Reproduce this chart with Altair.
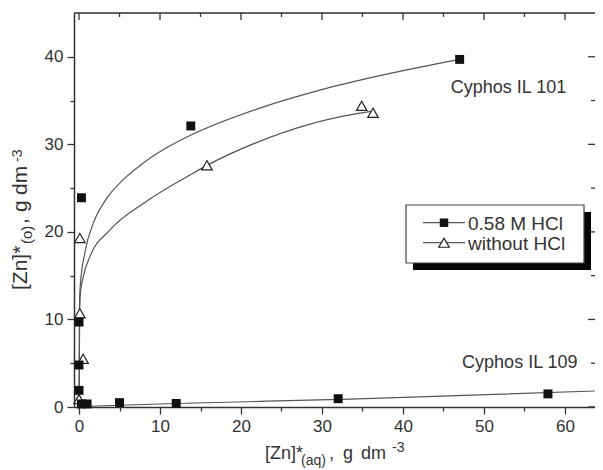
import altair as alt
import pandas as pd

# ---------------- data ----------------
series_names = ["0.58 M HCl", "without HCl"]

# 0.58 M HCl (filled squares) - Cyphos IL 101
hcl101_x = [0.0, 0.0, 0.0, 0.3, 13.8, 47.0]
hcl101_y = [1.9, 4.8, 9.7, 23.9, 32.1, 39.7]
# 0.58 M HCl (filled squares) - Cyphos IL 109
hcl109_x = [0.3, 1.0, 5.0, 12.0, 32.0, 57.9]
hcl109_y = [0.35, 0.35, 0.5, 0.4, 0.95, 1.5]
# without HCl (open triangles)
nohcl_x = [0.0, 0.5, 0.1, 0.1, 15.8, 34.9, 36.3]
nohcl_y = [0.9, 5.5, 10.7, 19.3, 27.6, 34.4, 33.6]

# fitted curves
fit_hcl101_x = [0.0, 0.06, 0.15, 0.74, 1.77, 3.4, 5.5, 7.7, 10.8, 13.7, 21.9, 30.2, 38.4, 47.0]
fit_hcl101_y = [0.0, 11.5, 13.8, 17.7, 21.0, 23.8, 26.0, 27.7, 29.6, 31.0, 34.0, 36.3, 38.1, 39.7]
fit_nohcl_x = [0.0, 0.08, 0.15, 0.53, 1.36, 3.8, 8.35, 13.7, 15.8, 21.9, 28.1, 34.3, 36.3]
fit_nohcl_y = [0.0, 11.0, 12.8, 14.9, 17.2, 20.2, 23.5, 26.5, 27.6, 30.2, 32.2, 33.5, 33.8]
fit_hcl109_x = [0.0, 5.0, 12.0, 33.5, 64.5]
fit_hcl109_y = [0.05, 0.2, 0.4, 0.9, 1.85]

ann_text = ["Cyphos IL 101", "Cyphos IL 109"]
ann_x = [45.9, 47.3]
ann_y = [35.85, 4.45]

x_ticks = list(range(0, 65, 5))
y_ticks = list(range(0, 45, 5))

# ---------------- layout ----------------
W, H = 521, 394
FONT = "Liberation Sans"
TXT = "#333333"
LINE = "#555555"

xscale = alt.Scale(domain=[-0.62, 63.71], nice=False, zero=False)
yscale = alt.Scale(domain=[0, 45], nice=False, zero=False)

tick_len = {"condition": {"test": "datum.value % 10 === 0", "value": 7}, "value": 4}
xax = alt.Axis(values=[v for v in x_ticks if v <= 60],
               labelExpr="datum.value % 10 === 0 ? datum.label : ''",
               tickSize=tick_len, grid=False, title=None, labelFontSize=17, labelColor=TXT,
               labelFont=FONT, domainColor=TXT, domainWidth=1.5, tickColor=TXT, tickWidth=1.3,
               labelPadding=4, labelFlush=False)
yax = alt.Axis(values=y_ticks, labelExpr="datum.value % 10 === 0 ? datum.label : ''",
               tickSize=tick_len, grid=False, title=None, labelFontSize=17, labelColor=TXT,
               labelFont=FONT, domainColor=TXT, domainWidth=1.5, tickColor=TXT, tickWidth=1.3,
               labelPadding=4)

def X(f):
    return alt.X(f, type="quantitative", scale=xscale, axis=xax)

def Y(f):
    return alt.Y(f, type="quantitative", scale=yscale, axis=yax)

def curve(xs, ys):
    df = pd.DataFrame({"x": xs, "y": ys})
    return alt.Chart(df).mark_line(color=LINE, strokeWidth=1.2, interpolate="monotone",
                                   clip=True).encode(x=X("x"), y=Y("y"))

one = pd.DataFrame({"a": [0]})

layers = []
layers.append(curve(fit_hcl101_x, fit_hcl101_y))
layers.append(curve(fit_nohcl_x, fit_nohcl_y))
layers.append(curve(fit_hcl109_x, fit_hcl109_y))

# top frame line and inward ticks on top and right
layers.append(alt.Chart(one).mark_rule(color=TXT, strokeWidth=1.5).encode(
    x=alt.value(0), x2=alt.value(W), y=alt.value(0)))
for vals, ln in [([v for v in x_ticks if v % 10 == 0], 7), ([v for v in x_ticks if v % 10], 4)]:
    layers.append(alt.Chart(pd.DataFrame({"v": vals})).mark_rule(color=TXT, strokeWidth=1.3).encode(
        x=X("v"), y=alt.value(0), y2=alt.value(ln)))
for vals, ln in [([v for v in y_ticks if v % 10 == 0], 7), ([v for v in y_ticks if v % 10], 4)]:
    layers.append(alt.Chart(pd.DataFrame({"v": vals})).mark_rule(color=TXT, strokeWidth=1.3).encode(
        y=Y("v"), x=alt.value(W), x2=alt.value(W - ln)))

sq = pd.DataFrame({"x": hcl101_x + hcl109_x, "y": hcl101_y + hcl109_y})
tri = pd.DataFrame({"x": nohcl_x, "y": nohcl_y})
layers.append(alt.Chart(tri).mark_point(shape="triangle-up", filled=True, fill="white",
                                        stroke="#222222", strokeWidth=1.2, size=110, opacity=1).encode(
    x=X("x"), y=Y("y")))
layers.append(alt.Chart(sq).mark_point(shape="square", filled=True, color="#111111",
                                       size=80, opacity=1).encode(x=X("x"), y=Y("y")))

ann = pd.DataFrame({"t": ann_text, "x": ann_x, "y": ann_y})
layers.append(alt.Chart(ann).mark_text(align="left", baseline="alphabetic", fontSize=18,
                                       font=FONT, color=TXT).encode(x=X("x"), y=Y("y"), text="t:N"))

# legend (box with drop shadow)
LX0, LX1, LY0, LY1, SH = 332, 510, 192, 250, 7
layers.append(alt.Chart(one).mark_rect(color="black").encode(
    x=alt.value(LX0 + SH), x2=alt.value(LX1 + SH), y=alt.value(LY0 + SH), y2=alt.value(LY1 + SH)))
layers.append(alt.Chart(one).mark_rect(fill="white", stroke="#444444", strokeWidth=1.2).encode(
    x=alt.value(LX0), x2=alt.value(LX1), y=alt.value(LY0), y2=alt.value(LY1)))
row_y = [209.7, 229.7]
for i, name in enumerate(series_names):
    ry = row_y[i]
    layers.append(alt.Chart(one).mark_rule(color=LINE, strokeWidth=1.2).encode(
        x=alt.value(349), x2=alt.value(391), y=alt.value(ry)))
    if i == 0:
        pm = alt.Chart(one).mark_point(shape="square", filled=True, color="#111111", size=72, opacity=1)
    else:
        pm = alt.Chart(one).mark_point(shape="triangle-up", filled=True, fill="white",
                                       stroke="#222222", strokeWidth=1.2, size=110, opacity=1)
    layers.append(pm.encode(x=alt.value(370), y=alt.value(ry)))
    layers.append(alt.Chart(one).mark_text(align="left", baseline="middle", fontSize=19,
                                           font=FONT, color=TXT).encode(
        x=alt.value(394), y=alt.value(ry + 1), text=alt.value(name)))

# axis titles with sub/superscripts
def piece(text, x, y, size, angle=0):
    return alt.Chart(one).mark_text(align="left", baseline="alphabetic", fontSize=size,
                                    font=FONT, color=TXT, angle=angle).encode(
        x=alt.value(x), y=alt.value(y), text=alt.value(text))

layers += [
    piece("[Zn]*", 191, 446, 18),
    piece("(aq)", 227, 452, 14),
    piece(",", 255, 446, 18),
    piece("g", 269, 446, 18),
    piece("dm", 287, 446, 18),
    piece("-3", 318, 439, 14),
]
layers += [
    piece("[Zn]*", -47, 277, 21, 270),
    piece("(o)", -42, 231, 15, 270),
    piece(",", -47, 211, 21, 270),
    piece("g", -47, 199, 21, 270),
    piece("dm", -47, 182, 21, 270),
    piece("-3", -52, 149, 14, 270),
]

chart = alt.layer(*layers).properties(
    width=W, height=H,
    autosize=alt.AutoSizeParams(type="none"),
    padding={"left": 66, "top": 5, "right": 0, "bottom": 63},
).configure_view(stroke=None).configure(font=FONT)

chart.save("out.html", embed_options={"renderer": "svg", "actions": False})
